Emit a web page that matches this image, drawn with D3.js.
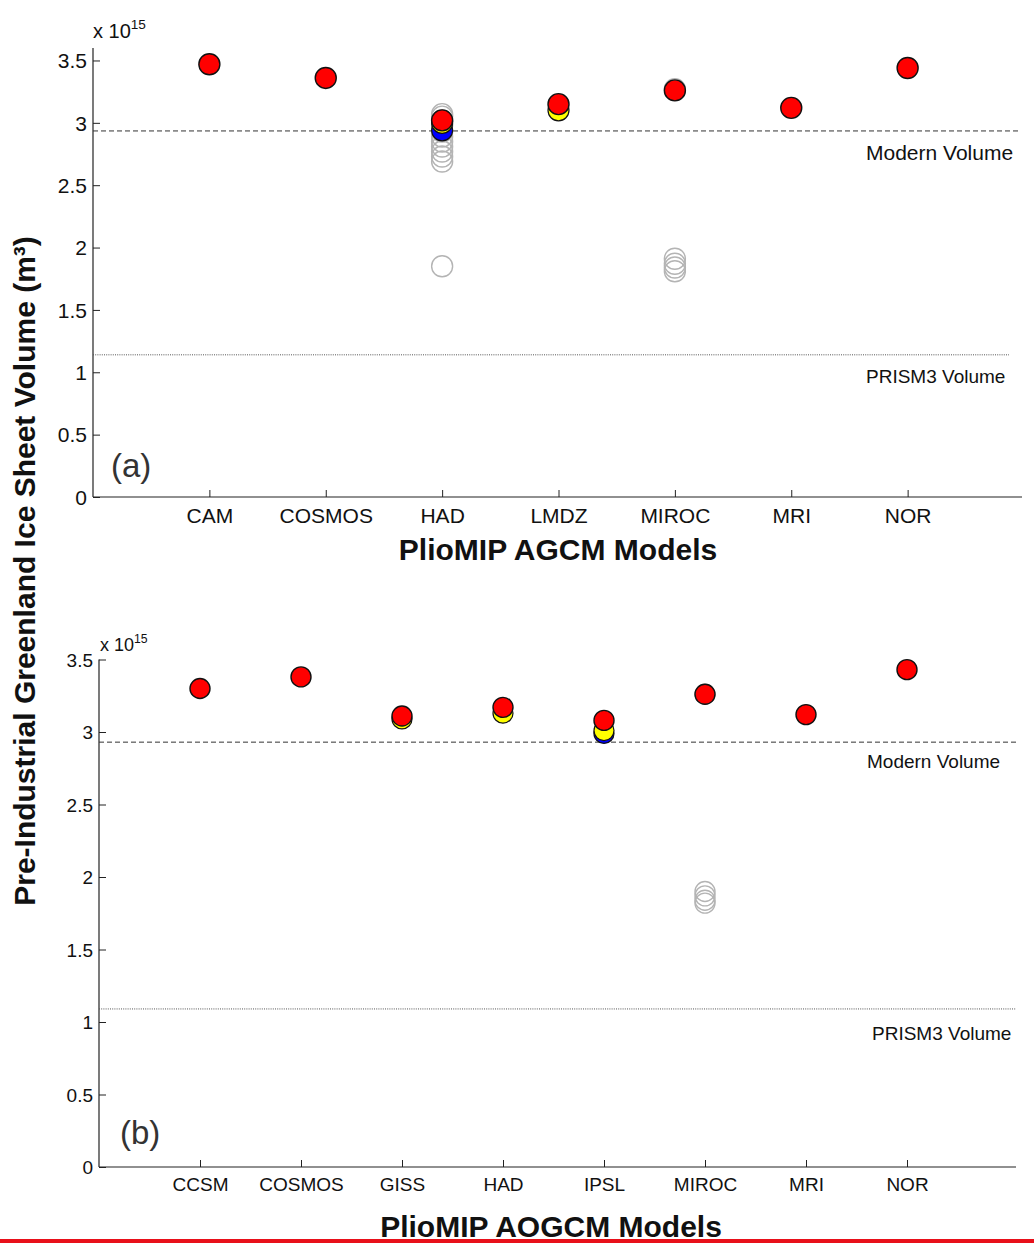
<!DOCTYPE html>
<html><head><meta charset="utf-8">
<script src="https://cdn.jsdelivr.net/npm/d3@7"></script>
<style>body{margin:0;background:#fff}svg{display:block}text{font-family:Arial,"Liberation Sans",sans-serif}</style>
</head><body><svg id="c" width="1034" height="1249"></svg>
<script>
// ---- data (units of 1e15 m^3) ----
const modelsA = ["CAM","COSMOS","HAD","LMDZ","MIROC","MRI","NOR"];
const greyA = [
  ["HAD",3.07],["HAD",3.05],["HAD",3.02],["HAD",2.98],["HAD",2.93],["HAD",2.89],["HAD",2.85],
  ["HAD",2.81],["HAD",2.77],["HAD",2.73],["HAD",2.69],["HAD",1.85],
  ["MIROC",3.27],["MIROC",1.91],["MIROC",1.87],["MIROC",1.84],["MIROC",1.81]
];
const blueA = [["HAD",2.94]];
const yellowA = [["LMDZ",3.10],["HAD",3.00]];
const redA = [["CAM",3.47],["COSMOS",3.36],["HAD",3.02],["LMDZ",3.15],["MIROC",3.26],["MRI",3.12],["NOR",3.44]];

const modelsB = ["CCSM","COSMOS","GISS","HAD","IPSL","MIROC","MRI","NOR"];
const greyB = [["MIROC",1.90],["MIROC",1.87],["MIROC",1.84],["MIROC",1.82],["MIROC",3.26]];
const blueB = [["IPSL",2.99]];
const yellowB = [["GISS",3.09],["HAD",3.13],["IPSL",3.01]];
const redB = [["CCSM",3.30],["COSMOS",3.38],["GISS",3.11],["HAD",3.17],["IPSL",3.08],["MIROC",3.26],["MRI",3.12],["NOR",3.43]];

const modernA = 2.935, prismA = 1.14;
const modernB = 2.93, prismB = 1.09;
const ticksY = [0,0.5,1,1.5,2,2.5,3,3.5];

const svg = d3.select("#c");

function panel(o){
  const g = svg.append("g");
  const x = d3.scaleLinear().domain([0,o.models.length+1]).range([o.left,o.right]);
  const y = d3.scaleLinear().domain([0,o.ymax]).range([o.bottom,o.top]);
  const xi = m => x(o.models.indexOf(m)+1);

  // axes
  const ya = d3.axisLeft(y).tickValues(ticksY).tickSize(-7).tickPadding(o.ypad).tickFormat(d=>d3.format("")(d));
  const gy = g.append("g").attr("transform",`translate(${o.left},0)`).call(ya);
  gy.select(".domain").attr("d",`M0,${o.bottom}V${o.top}`);
  const xa = d3.axisBottom(x).tickValues(o.models.map((m,i)=>i+1)).tickSize(-7).tickPadding(11).tickFormat((d)=>o.models[d-1]);
  const gx = g.append("g").attr("transform",`translate(0,${o.bottom})`).call(xa);
  gx.select(".domain").attr("d",`M${o.left},0H${o.axisEnd}`);
  [gy,gx].forEach(a=>{
    a.selectAll(".domain").attr("stroke","#222").attr("stroke-width",1.2);
    a.selectAll(".tick line").attr("stroke","#222").attr("stroke-width",1);
    a.selectAll(".tick text").attr("fill","#111").style("font-size",o.fs+"px").style("font-family","Arial, 'Liberation Sans', sans-serif");
  });
  gy.selectAll(".tick text").attr("dy","0.35em");

  // exponent label
  const ex = g.append("text").attr("x",o.left+(o.expDx||0)).attr("y",o.expY).attr("fill","#111").style("font-size",o.efs+"px");
  ex.append("tspan").text("x 10");
  ex.append("tspan").text("15").attr("dy",-o.efs*0.45).style("font-size",(o.efs*0.68)+"px");

  // reference lines
  g.append("line").attr("x1",o.left).attr("x2",o.modernEnd).attr("y1",y(o.modern)).attr("y2",y(o.modern))
    .attr("stroke","#333").attr("stroke-width",1).attr("stroke-dasharray","5,3");
  g.append("line").attr("x1",o.left).attr("x2",o.prismEnd).attr("y1",y(o.prism)).attr("y2",y(o.prism))
    .attr("stroke","#555").attr("stroke-width",1).attr("stroke-dasharray","1,1.2");
  g.append("text").attr("x",o.modernX).attr("y",y(o.modern)+o.lblDy).attr("fill","#111").style("font-size",o.mfs+"px").text("Modern Volume");
  g.append("text").attr("x",o.prismX).attr("y",y(o.prism)+o.lblDy2).attr("fill","#111").style("font-size",o.pfs+"px").text("PRISM3 Volume");

  // panel letter
  g.append("text").attr("x",o.letterX).attr("y",o.letterY).attr("fill","#333").style("font-size","33px").text(o.letter);

  const r = o.r;
  g.selectAll(".grey").data(o.grey).join("circle").attr("cx",d=>xi(d[0])).attr("cy",d=>y(d[1])).attr("r",r)
    .attr("fill","none").attr("stroke","#b4b4b4").attr("stroke-width",1.4);
  g.selectAll(".blue").data(o.blue).join("circle").attr("cx",d=>xi(d[0])).attr("cy",d=>y(d[1])).attr("r",r)
    .attr("fill","#0000ff").attr("stroke","#111").attr("stroke-width",1.2);
  g.selectAll(".yellow").data(o.yellow).join("circle").attr("cx",d=>xi(d[0])).attr("cy",d=>y(d[1])).attr("r",r)
    .attr("fill","#ffff00").attr("stroke","#111").attr("stroke-width",1.2);
  g.selectAll(".red").data(o.red).join("circle").attr("cx",d=>xi(d[0])).attr("cy",d=>y(d[1])).attr("r",r)
    .attr("fill","#ff0000").attr("stroke","#111").attr("stroke-width",1.4);

  // x title
  g.append("text").attr("x",o.titleX).attr("y",o.titleY).attr("text-anchor","middle").attr("fill","#111")
    .style("font-size","30px").style("font-weight","bold").text(o.title);
}

panel({models:modelsA,left:93,right:1024,axisEnd:1022,top:48,bottom:497,ymax:3.6,fs:21,ypad:6,efs:20,mfs:21,pfs:19,r:10.5,
  grey:greyA,blue:blueA,yellow:yellowA,red:redA,modern:modernA,prism:prismA,
  modernEnd:1019,prismEnd:1009,modernX:866,prismX:866,lblDy:29,lblDy2:28,
  expY:38,expDx:0,letter:"(a)",letterX:111,letterY:477,title:"PlioMIP AGCM Models",titleX:558,titleY:560});

panel({models:modelsB,left:99,right:1008,axisEnd:1016,top:659.5,bottom:1167,ymax:3.5,fs:19,ypad:6,efs:18,mfs:19,pfs:19,r:10,
  grey:greyB,blue:blueB,yellow:yellowB,red:redB,modern:modernB,prism:prismB,
  modernEnd:1016,prismEnd:1016,modernX:867,prismX:872,lblDy:26,lblDy2:31,
  expY:651,expDx:1,letter:"(b)",letterX:120,letterY:1144,title:"PlioMIP AOGCM Models",titleX:551,titleY:1237});

// y title
svg.append("text").attr("transform","translate(35,571) rotate(-90)").attr("text-anchor","middle").attr("fill","#111")
  .style("font-size","30px").style("font-weight","bold")
  .text("Pre-Industrial Greenland Ice Sheet Volume (m³)");

// bottom red rule
svg.append("rect").attr("x",0).attr("y",1239).attr("width",1034).attr("height",4).attr("fill","#e8101a");
</script></body></html>
